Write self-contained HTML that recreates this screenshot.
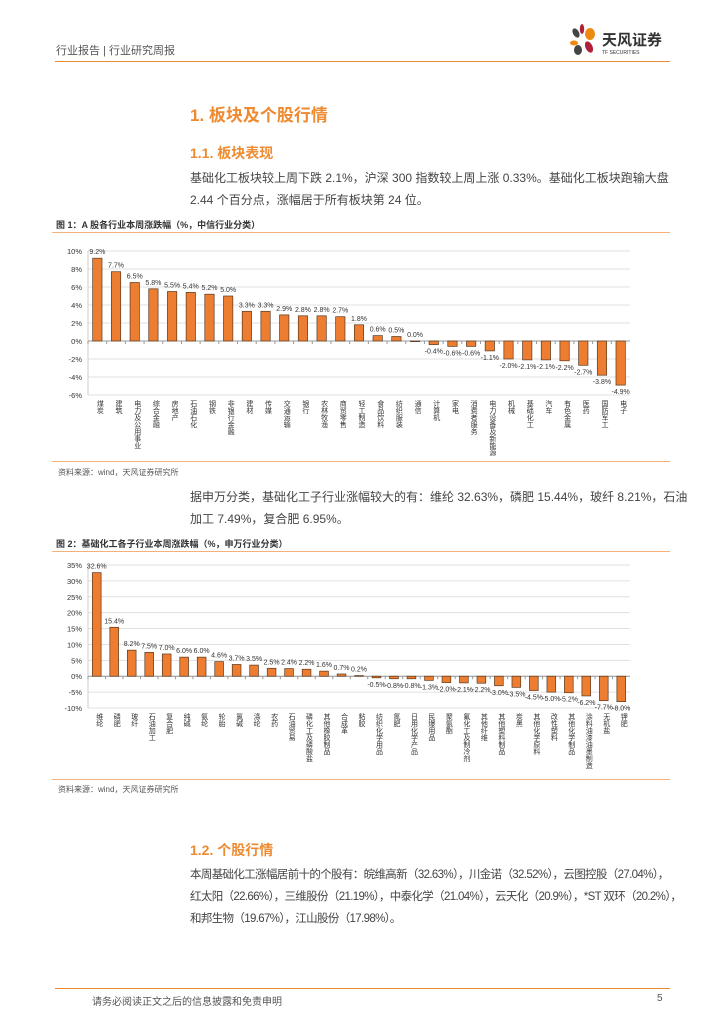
<!DOCTYPE html>
<html><head><meta charset="utf-8"><style>
body{margin:0;width:724px;height:1024px;position:relative;background:#fff;font-family:"Liberation Sans","Noto Sans CJK SC",sans-serif;color:#333;overflow:hidden}
.a{position:absolute;white-space:nowrap}
.p{font-size:12px;color:#444;line-height:22px}
.ft{font-size:9px;font-weight:bold;color:#333}
.src{font-size:8px;color:#555}
.ln{position:absolute;height:0}
</style></head><body>
<div class="a" style="left:56px;top:42px;font-size:11px;color:#555">行业报告 | 行业研究周报</div>
<svg class="a" style="left:568px;top:24px" width="32" height="34" viewBox="0 0 32 34">
<ellipse cx="8" cy="9" rx="3" ry="5" fill="#444" transform="rotate(-30 8 9)"/><ellipse cx="14" cy="5" rx="2.2" ry="5" fill="#b0203a"/><ellipse cx="22" cy="10" rx="5" ry="6" fill="#ee8a10"/><ellipse cx="6" cy="19" rx="4" ry="2.5" fill="#ee8a10"/><ellipse cx="21" cy="23" rx="3.5" ry="6" fill="#b0203a" transform="rotate(-25 21 23)"/><ellipse cx="10" cy="26" rx="4" ry="5" fill="#444"/></svg>
<div class="a" style="left:602px;top:29px;font-size:15px;font-weight:bold;color:#333">天风证券</div>
<div class="a" style="left:602px;top:50px;font-size:5px;color:#333">TF SECURITIES</div>
<div class="ln" style="left:55px;top:61px;width:615px;border-top:1.5px solid #ee8a30"></div>

<div class="a" style="left:190px;top:101px;font-size:17px;font-weight:bold;color:#ee8a30">1. 板块及个股行情</div>
<div class="a" style="left:190px;top:143px;font-size:14px;font-weight:bold;color:#ee8a30">1.1. 板块表现</div>
<div class="a p" style="left:190px;top:167px">基础化工板块较上周下跌 2.1%，沪深 300 指数较上周上涨 0.33%。基础化工板块跑输大盘<br>2.44 个百分点，涨幅居于所有板块第 24 位。</div>

<div class="a ft" style="left:56px;top:218px">图 1：A 股各行业本周涨跌幅（%，中信行业分类）</div>
<div class="ln" style="left:52px;top:232px;width:618px;border-top:1px solid #f2b27a"></div>
<svg class="a" id="c1" style="left:0;top:0" width="724" height="470"></svg>
<div class="ln" style="left:52px;top:461px;width:618px;border-top:1px solid #f2b27a"></div>
<div class="a src" style="left:58px;top:467px">资料来源：wind，天风证券研究所</div>

<div class="a p" style="left:190px;top:486px">据申万分类，基础化工子行业涨幅较大的有：维纶 32.63%，磷肥 15.44%，玻纤 8.21%，石油<br>加工 7.49%，复合肥 6.95%。</div>

<div class="a ft" style="left:56px;top:537px">图 2：基础化工各子行业本周涨跌幅（%，申万行业分类）</div>
<div class="ln" style="left:52px;top:551px;width:618px;border-top:1px solid #f2b27a"></div>
<svg class="a" id="c2" style="left:0;top:0" width="724" height="780"></svg>
<div class="ln" style="left:52px;top:779px;width:618px;border-top:1px solid #f2b27a"></div>
<div class="a src" style="left:58px;top:784px">资料来源：wind，天风证券研究所</div>

<div class="a" style="left:190px;top:840px;font-size:14px;font-weight:bold;color:#ee8a30">1.2. 个股行情</div>
<div class="a p" style="left:190px;top:864px;font-size:11.5px;letter-spacing:-0.65px">本周基础化工涨幅居前十的个股有：皖维高新（32.63%），川金诺（32.52%），云图控股（27.04%），<br>红太阳（22.66%），三维股份（21.19%），中泰化学（21.04%），云天化（20.9%），*ST 双环（20.2%），<br>和邦生物（19.67%），江山股份（17.98%）。</div>

<div class="ln" style="left:55px;top:988px;width:615px;border-top:1.5px solid #ee8a30"></div>
<div class="a" style="left:92px;top:993px;font-size:10px;color:#555">请务必阅读正文之后的信息披露和免责申明</div>
<div class="a" style="left:657px;top:993px;font-size:10px;color:#555">5</div>

<script>
const cats1=["煤炭","建筑","电力及公用事业","综合金融","房地产","石油石化","钢铁","非银行金融","建材","传媒","交通运输","银行","农林牧渔","商贸零售","轻工制造","食品饮料","纺织服装","通信","计算机","家电","消费者服务","电力设备及新能源","机械","基础化工","汽车","有色金属","医药","国防军工","电子"];
const vals1=[9.2,7.7,6.5,5.8,5.5,5.4,5.2,5.0,3.3,3.3,2.9,2.8,2.8,2.7,1.8,0.6,0.5,0.0,-0.4,-0.6,-0.6,-1.1,-2.0,-2.1,-2.1,-2.2,-2.7,-3.8,-4.9];
const ticks1=[10,8,6,4,2,0,-2,-4,-6];
const cats2=["维纶","磷肥","玻纤","石油加工","复合肥","纯碱","氨纶","轮胎","氯碱","涤纶","农药","石油贸易","磷化工及磷酸盐","其他橡胶制品","合成革","粘胶","纺织化学用品","氮肥","日用化学产品","民爆用品","聚氨酯","氟化工及制冷剂","其他纤维","其他塑料制品","炭黑","其他化学原料","改性塑料","其他化学制品","涂料油漆油墨制造","无机盐","钾肥"];
const vals2=[32.6,15.4,8.2,7.5,7.0,6.0,6.0,4.6,3.7,3.5,2.5,2.4,2.2,1.6,0.7,0.2,-0.5,-0.8,-0.8,-1.3,-2.0,-2.1,-2.2,-3.0,-3.5,-4.5,-5.0,-5.2,-6.2,-7.7,-8.0];
const ticks2=[35,30,25,20,15,10,5,0,-5,-10];
const NS="http://www.w3.org/2000/svg";
function mk(svg,tag,at,txt){const e=document.createElementNS(NS,tag);for(const k in at)e.setAttribute(k,at[k]);if(txt!==undefined)e.textContent=txt;svg.appendChild(e);return e;}
function draw(svg,cats,vals,ticks,o){
  const tmax=ticks[0],tmin=ticks[ticks.length-1];
  const y=v=>o.top+(tmax-v)/(tmax-tmin)*(o.bot-o.top);
  const step=(o.x1-o.x0)/cats.length;
  const x=i=>o.x0+step*i;
  ticks.forEach(t=>{
    const g=mk(svg,"line",{x1:o.x0,x2:o.x1,y1:y(t),y2:y(t),stroke:"#e0e0e0","stroke-width":1});
    
    
    const l=mk(svg,"text",{x:o.x0-6,y:y(t)+3,"text-anchor":"end","font-size":7.5,fill:"#333"},t+"%");
    
    
  });
  mk(svg,"line",{x1:o.x0,x2:o.x0,y1:o.top,y2:o.bot,stroke:"#ccc"});
  const z=mk(svg,"line",{x1:o.x0,x2:o.x1,y1:y(0),y2:y(0),stroke:"#999"});
  
  
  const bw=step*0.5;
  cats.forEach((c,i)=>{
    const v=vals[i],cx=x(i)+step/2;
    const y0=Math.min(y(v),y(0)),h=Math.max(Math.abs(y(v)-y(0)),0.6);
    const b=mk(svg,"rect",{x:cx-bw/2,y:y0,width:bw,height:h,fill:"#ed7d31",stroke:"#5a3a20","stroke-width":0.7});
    
    
    const ly=v>=0?y(v)-4:y(v)+9;
    const lb=mk(svg,"text",{x:cx,y:ly,"text-anchor":"middle","font-size":7,fill:"#333"},v.toFixed(1)+"%");
    
    
    const cl=mk(svg,"text",{x:cx+2.5,y:o.bot+5,"font-size":7,fill:"#333","writing-mode":"tb","glyph-orientation-vertical":0},c);
    
    
    mk(svg,"line",{x1:x(i),x2:x(i),y1:y(0),y2:y(0)+3,stroke:"#999"});
  });
}
draw(document.getElementById("c1"),cats1,vals1,ticks1,{x0:88,x1:630,top:251,bot:395});
draw(document.getElementById("c2"),cats2,vals2,ticks2,{x0:88,x1:630,top:565,bot:708});
</script>
</body></html>
